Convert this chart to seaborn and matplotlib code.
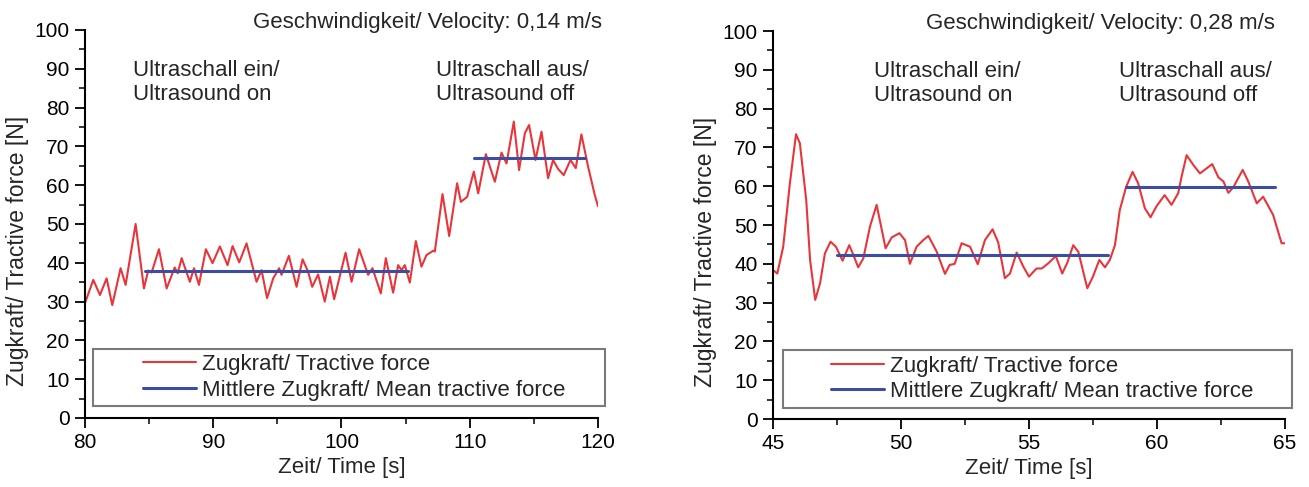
import numpy as np
import pandas as pd
import matplotlib
matplotlib.use("Agg")
import matplotlib.pyplot as plt
import matplotlib.patches as patches
from matplotlib.ticker import MultipleLocator
import seaborn as sns

# ---- data ----
# left panel, 0,14 m/s
t_left = [80.0, 80.65, 81.17, 81.69, 82.13, 82.78, 83.17, 83.95, 84.6, 84.93, 85.2, 85.77, 86.37,
          87.0, 87.23, 87.54, 88.18, 88.5, 88.89, 89.43, 89.95, 90.52, 91.12, 91.51, 92.03, 92.6,
          93.38, 93.77, 94.2, 94.68, 95.14, 95.33, 95.9, 96.5, 96.97, 97.4, 97.72, 98.18, 98.7,
          99.1, 99.43, 100.32, 100.79, 101.38, 102.08, 102.42, 103.07, 103.46, 104.03, 104.42,
          104.68, 104.94, 105.33, 105.8, 106.24, 106.63, 107.15, 107.28, 107.88, 108.4, 109.02,
          109.31, 109.8, 110.32, 110.66, 111.26, 111.96, 112.48, 112.87, 113.44, 113.85, 114.3,
          114.63, 115.13, 115.6, 116.11, 116.5, 116.89, 117.33, 117.86, 118.27, 118.71, 119.23,
          119.75, 120.0]
f_left = [29.6, 35.6, 31.7, 36.0, 29.1, 38.6, 34.3, 50.0, 33.4, 38.0, 37.5, 43.5, 33.4,
          38.8, 37.3, 41.2, 35.1, 38.6, 34.3, 43.5, 39.9, 44.2, 39.4, 44.3, 40.1, 45.0,
          35.1, 38.1, 30.9, 36.0, 38.6, 36.9, 41.8, 33.8, 40.9, 37.7, 33.8, 37.0, 30.0,
          36.4, 30.6, 42.6, 35.1, 43.5, 36.9, 38.6, 32.1, 41.2, 32.3, 39.4,
          38.1, 39.4, 34.9, 45.6, 39.0, 42.0, 43.1, 42.9, 57.7, 46.9, 60.5,
          55.7, 57.0, 63.5, 57.9, 68.0, 60.9, 68.4, 65.6, 76.4, 63.9, 73.4,
          75.5, 66.5, 73.8, 61.8, 66.5, 64.2, 62.6, 66.5, 64.4, 73.1, 64.8,
          57.5, 54.6]
mean_left_start = [84.7, 110.3]
mean_left_end = [105.2, 119.0]
mean_left_val = [38.0, 67.0]

# right panel, 0,28 m/s
t_right = [45.0, 45.17, 45.4, 45.66, 45.9, 46.05, 46.3, 46.45, 46.65, 46.84, 47.03, 47.25, 47.46,
           47.72, 47.98, 48.14, 48.33, 48.53, 48.79, 49.05, 49.4, 49.64, 49.94, 50.16, 50.35,
           50.61, 50.87, 51.07, 51.4, 51.72, 51.9, 52.1, 52.37, 52.7, 53.0, 53.28, 53.58, 53.8,
           54.06, 54.26, 54.52, 54.78, 55.0, 55.3, 55.5, 55.75, 56.05, 56.3, 56.5, 56.73, 56.93,
           57.28, 57.5, 57.75, 57.97, 58.16, 58.36, 58.55, 58.8, 59.05, 59.27, 59.53, 59.75,
           59.99, 60.3, 60.57, 60.83, 60.96, 61.16, 61.42, 61.68, 61.94, 62.16, 62.4, 62.6,
           62.79, 62.98, 63.35, 63.57, 63.9, 64.15, 64.54, 64.87, 65.0]
f_right = [38.4, 37.5, 44.4, 60.7, 73.4, 71.1, 56.4, 41.0, 30.7, 35.0, 42.7, 45.7, 44.4,
           40.8, 44.8, 42.3, 39.1, 41.4, 49.6, 55.2, 44.0, 46.8, 47.9, 46.1, 40.0,
           44.4, 46.1, 47.2, 43.1, 37.4, 39.7, 40.0, 45.3, 44.4, 39.9, 46.1, 48.9, 45.5,
           36.3, 37.5, 42.9, 39.3, 36.7, 38.8, 38.8, 40.1, 42.0, 37.5, 40.3, 44.8, 43.1,
           33.7, 36.7, 41.0, 39.1, 41.0, 44.8, 53.9, 59.9, 63.7, 60.7, 54.3, 52.0,
           54.9, 57.7, 55.2, 58.2, 62.4, 68.0, 65.5, 63.3, 64.6, 65.7, 62.3, 61.2,
           58.3, 59.7, 64.2, 61.2, 55.6, 57.3, 52.6, 45.3, 45.3]
mean_right_start = [47.5, 58.8]
mean_right_end = [58.1, 64.6]
mean_right_val = [42.4, 59.8]

labels = ["Zugkraft/ Tractive force", "Mittlere Zugkraft/ Mean tractive force"]
velocity_text = ["Geschwindigkeit/ Velocity: 0,14 m/s", "Geschwindigkeit/ Velocity: 0,28 m/s"]
us_on = "Ultraschall ein/\nUltrasound on"
us_off = "Ultraschall aus/\nUltrasound off"

RED = "#e8353a"
BLUE = "#3d4ea0"

sns.set_style("ticks")
plt.rcParams['font.family'] = ['Liberation Sans', 'DejaVu Sans']


def draw(ax, t, f, m_start, m_end, m_val, xlim, xmaj, xmin, vel, vel_x, on_x, off_x, box):
    df = pd.DataFrame({"t": t, "f": f})
    sns.lineplot(data=df, x="t", y="f", ax=ax, color=RED, lw=1.5, sort=False,
                 estimator=None, label=labels[0], legend=False)
    for i in range(len(m_val)):
        seg = pd.DataFrame({"t": [m_start[i], m_end[i]], "f": [m_val[i], m_val[i]]})
        sns.lineplot(data=seg, x="t", y="f", ax=ax, color=BLUE, lw=2.2,
                     estimator=None, label=labels[1] if i == 0 else None, legend=False)

    ax.set_xlim(*xlim)
    ax.set_ylim(0, 100)
    ax.xaxis.set_major_locator(MultipleLocator(xmaj))
    ax.xaxis.set_minor_locator(MultipleLocator(xmin))
    ax.yaxis.set_major_locator(MultipleLocator(10))
    ax.yaxis.set_minor_locator(MultipleLocator(5))
    ax.tick_params(which="major", length=7, width=1.3, direction="out", labelsize=15,
                   colors="black", pad=4)
    ax.tick_params(which="minor", length=4, width=1.3, direction="out")
    for s in ["left", "bottom"]:
        ax.spines[s].set_linewidth(1.5)
        ax.spines[s].set_color("black")
    sns.despine(ax=ax)

    ax.set_xlabel("Zeit/ Time [s]", fontsize=16)
    ax.set_ylabel("Zugkraft/ Tractive force [N]", fontsize=16.5)
    ax.yaxis.set_label_coords(-0.11, 0.43)
    ax.xaxis.set_label_coords(0.5, -0.1)

    ax.text(vel_x, 102, vel, ha="right", va="center", fontsize=16, clip_on=False)
    ax.text(on_x, 86.4, us_on, ha="left", va="center", fontsize=16, linespacing=1.2)
    ax.text(off_x, 86.4, us_off, ha="left", va="center", fontsize=16, linespacing=1.2)

    # legend frame + entries
    x0, y0, x1, y1 = box
    ax.add_patch(patches.Rectangle((x0, y0), x1 - x0, y1 - y0, transform=ax.transAxes,
                                   fill=False, edgecolor="#7a7a7a", lw=1.5, clip_on=False))
    h, l = ax.get_legend_handles_labels()
    ax.legend(h, l, loc="center", bbox_to_anchor=((x0 + x1) / 2 + 0.01, (y0 + y1) / 2),
              frameon=False, fontsize=16, handlelength=2.4, handletextpad=0.25,
              labelspacing=0.2, borderpad=0)


fig = plt.figure(figsize=(13.09, 4.87), dpi=100)
ax1 = fig.add_axes([0.0649, 0.1417, 0.3919, 0.7967])
ax2 = fig.add_axes([0.5905, 0.1396, 0.3911, 0.7967])

draw(ax1, t_left, f_left, mean_left_start, mean_left_end, mean_left_val,
     (80, 120), 10, 5, velocity_text[0], 120.3, 83.76, 107.4,
     (0.0156, 0.031, 1.0136, 0.178))
draw(ax2, t_right, f_right, mean_right_start, mean_right_end, mean_right_val,
     (45, 65), 5, 2.5, velocity_text[1], 64.6, 48.95, 58.5,
     (0.019, 0.028, 1.013, 0.178))

fig.savefig("out.png", dpi=100)
